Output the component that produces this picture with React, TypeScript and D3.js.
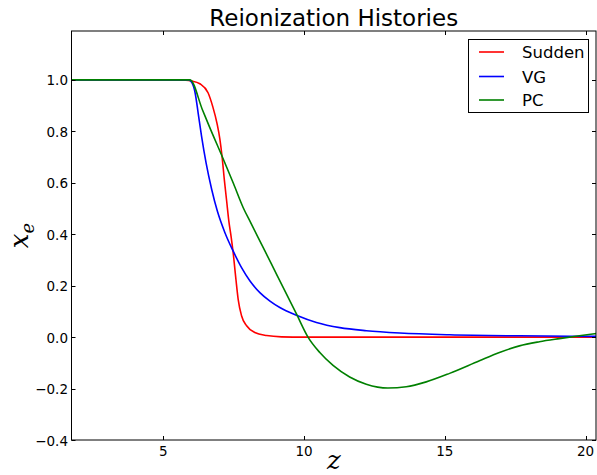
import React, { useRef, useEffect } from 'react';
import * as d3 from 'd3';

const suddenZ = [1.74, 5.5, 5.8, 6.0, 6.3, 6.59, 6.76, 6.91, 7.01, 7.09, 7.17, 7.25, 7.33, 7.41, 7.48, 7.58, 7.66, 7.78, 7.96, 8.25, 8.67, 9.2, 10.0, 20.4];
const suddenXe = [1.0, 1.0, 0.999, 0.996, 0.985, 0.95, 0.895, 0.83, 0.77, 0.70, 0.61, 0.53, 0.45, 0.39, 0.33, 0.225, 0.147, 0.083, 0.044, 0.018, 0.006, 0.001, 0.0, 0.0];

const vgZ = [1.74, 5.9, 6.01, 6.13, 6.24, 6.36, 6.52, 6.72, 6.92, 7.19, 7.48, 7.78, 8.08, 8.43, 8.79, 9.14, 9.73, 10.44, 11.27, 12.21, 13.4, 15.17, 17.65, 20.4];
const vgXe = [1.0, 1.0, 0.99, 0.95, 0.87, 0.78, 0.677, 0.574, 0.49, 0.406, 0.335, 0.27, 0.218, 0.173, 0.14, 0.115, 0.085, 0.057, 0.037, 0.025, 0.016, 0.009, 0.005, 0.003];

const pcZ = [1.74, 5.95, 6.39, 6.63, 7.1, 7.5, 7.84, 8.1, 8.6, 9.02, 9.4, 9.73, 10.14, 10.56, 11.03, 11.62, 12.21, 12.98, 13.63, 14.34, 15.17, 16.23, 16.94, 17.65, 18.36, 19.07, 19.78, 20.4];
const pcXe = [1.0, 1.0, 0.884, 0.82, 0.70, 0.595, 0.503, 0.446, 0.337, 0.245, 0.162, 0.09, 0.0, -0.06, -0.11, -0.155, -0.183, -0.198, -0.193, -0.174, -0.141, -0.092, -0.06, -0.034, -0.018, -0.006, 0.005, 0.014];

const seriesNames = ['Sudden', 'VG', 'PC'];
const seriesColors = ['#ff0000', '#0000ff', '#008000'];
const xTicks = [5, 10, 15, 20];
const yTicks = [-0.4, -0.2, 0.0, 0.2, 0.4, 0.6, 0.8, 1.0];

const W = 597;
const H = 475;

const App: React.FC = () => {
  const svgRef = useRef<SVGSVGElement>(null);

  useEffect(() => {
    if (!svgRef.current) return;
    const svg = d3.select(svgRef.current);
    svg.selectAll('*').remove();

    const left = 71.5;
    const right = 596;
    const top = 31;
    const bottom = 440;

    const x = d3.scaleLinear().domain([1.74, 20.37]).range([left, right]);
    const y = d3.scaleLinear().domain([-0.4, 1.19]).range([bottom, top]);

    const font = '"DejaVu Sans", sans-serif';

    svg.append('rect').attr('width', W).attr('height', H).attr('fill', '#fff');

    svg.append('clipPath').attr('id', 'plot')
      .append('rect')
      .attr('x', left).attr('y', top)
      .attr('width', right - left).attr('height', bottom - top);

    const series = [
      { z: suddenZ, xe: suddenXe },
      { z: vgZ, xe: vgXe },
      { z: pcZ, xe: pcXe },
    ];

    const line = d3.line<[number, number]>()
      .x((d) => x(d[0]))
      .y((d) => y(d[1]))
      .curve(d3.curveMonotoneX);

    const lines = svg.append('g').attr('clip-path', 'url(#plot)');
    series.forEach((s, i) => {
      const pts = s.z.map((z, j) => [z, s.xe[j]] as [number, number]);
      lines.append('path')
        .attr('d', line(pts))
        .attr('fill', 'none')
        .attr('stroke', seriesColors[i])
        .attr('stroke-width', 1.6);
    });

    // frame
    svg.append('rect')
      .attr('x', left).attr('y', top)
      .attr('width', right - left).attr('height', bottom - top)
      .attr('fill', 'none').attr('stroke', '#000').attr('stroke-width', 1);

    // ticks, inward on all four sides
    const tl = 4;
    const ticks = svg.append('g').attr('stroke', '#000').attr('stroke-width', 1);
    xTicks.forEach((t) => {
      const px = Math.round(x(t)) + 0.5;
      ticks.append('line').attr('x1', px).attr('x2', px).attr('y1', bottom).attr('y2', bottom - tl);
      ticks.append('line').attr('x1', px).attr('x2', px).attr('y1', top).attr('y2', top + tl);
    });
    yTicks.forEach((t) => {
      const py = Math.round(y(t)) + 0.5;
      ticks.append('line').attr('x1', left).attr('x2', left + tl).attr('y1', py).attr('y2', py);
      ticks.append('line').attr('x1', right).attr('x2', right - tl).attr('y1', py).attr('y2', py);
    });

    svg.append('g').selectAll('text')
      .data(xTicks)
      .enter()
      .append('text')
      .attr('x', (d) => x(d))
      .attr('y', bottom + 16)
      .attr('text-anchor', 'middle')
      .attr('font-family', font)
      .attr('font-size', 13.5)
      .text((d) => String(d));

    svg.append('g').selectAll('text')
      .data(yTicks)
      .enter()
      .append('text')
      .attr('x', left - 3.5)
      .attr('y', (d) => y(d) + 5.5)
      .attr('text-anchor', 'end')
      .attr('font-family', font)
      .attr('font-size', 13.5)
      .text((d) => d3.format('.1f')(d).replace('-', '\u2212'));

    // title
    svg.append('text')
      .attr('x', (left + right) / 2)
      .attr('y', 26)
      .attr('text-anchor', 'middle')
      .attr('font-family', font)
      .attr('font-size', 23)
      .text('Reionization Histories');

    // axis labels
    svg.append('text')
      .attr('x', (left + right) / 2)
      .attr('y', 469)
      .attr('text-anchor', 'middle')
      .attr('font-family', '"DejaVu Serif", serif')
      .attr('font-style', 'italic')
      .attr('font-size', 26)
      .text('z');

    const yl = svg.append('text')
      .attr('transform', `translate(28,${(top + bottom) / 2}) rotate(-90)`)
      .attr('text-anchor', 'middle')
      .attr('font-family', '"DejaVu Serif", serif')
      .attr('font-style', 'italic')
      .attr('font-size', 26);
    yl.append('tspan').text('x');
    yl.append('tspan').attr('font-size', 18).attr('dy', 6).text('e');

    // legend
    const lg = svg.append('g');
    lg.append('rect')
      .attr('x', 468.5).attr('y', 39.5)
      .attr('width', 120).attr('height', 73)
      .attr('fill', '#fff').attr('stroke', '#000').attr('stroke-width', 1);
    const legendY = [52, 76.5, 100];
    seriesNames.forEach((name, i) => {
      lg.append('line')
        .attr('x1', 479).attr('x2', 504)
        .attr('y1', legendY[i]).attr('y2', legendY[i])
        .attr('stroke', seriesColors[i]).attr('stroke-width', 1.6);
      lg.append('text')
        .attr('x', 522).attr('y', legendY[i] + 6)
        .attr('font-family', font)
        .attr('font-size', 16.5)
        .text(name);
    });
  }, []);

  return (
    <svg
      ref={svgRef}
      width={W}
      height={H}
      style={{ position: 'absolute', left: 0, top: 0 }}
    />
  );
};

export default App;
